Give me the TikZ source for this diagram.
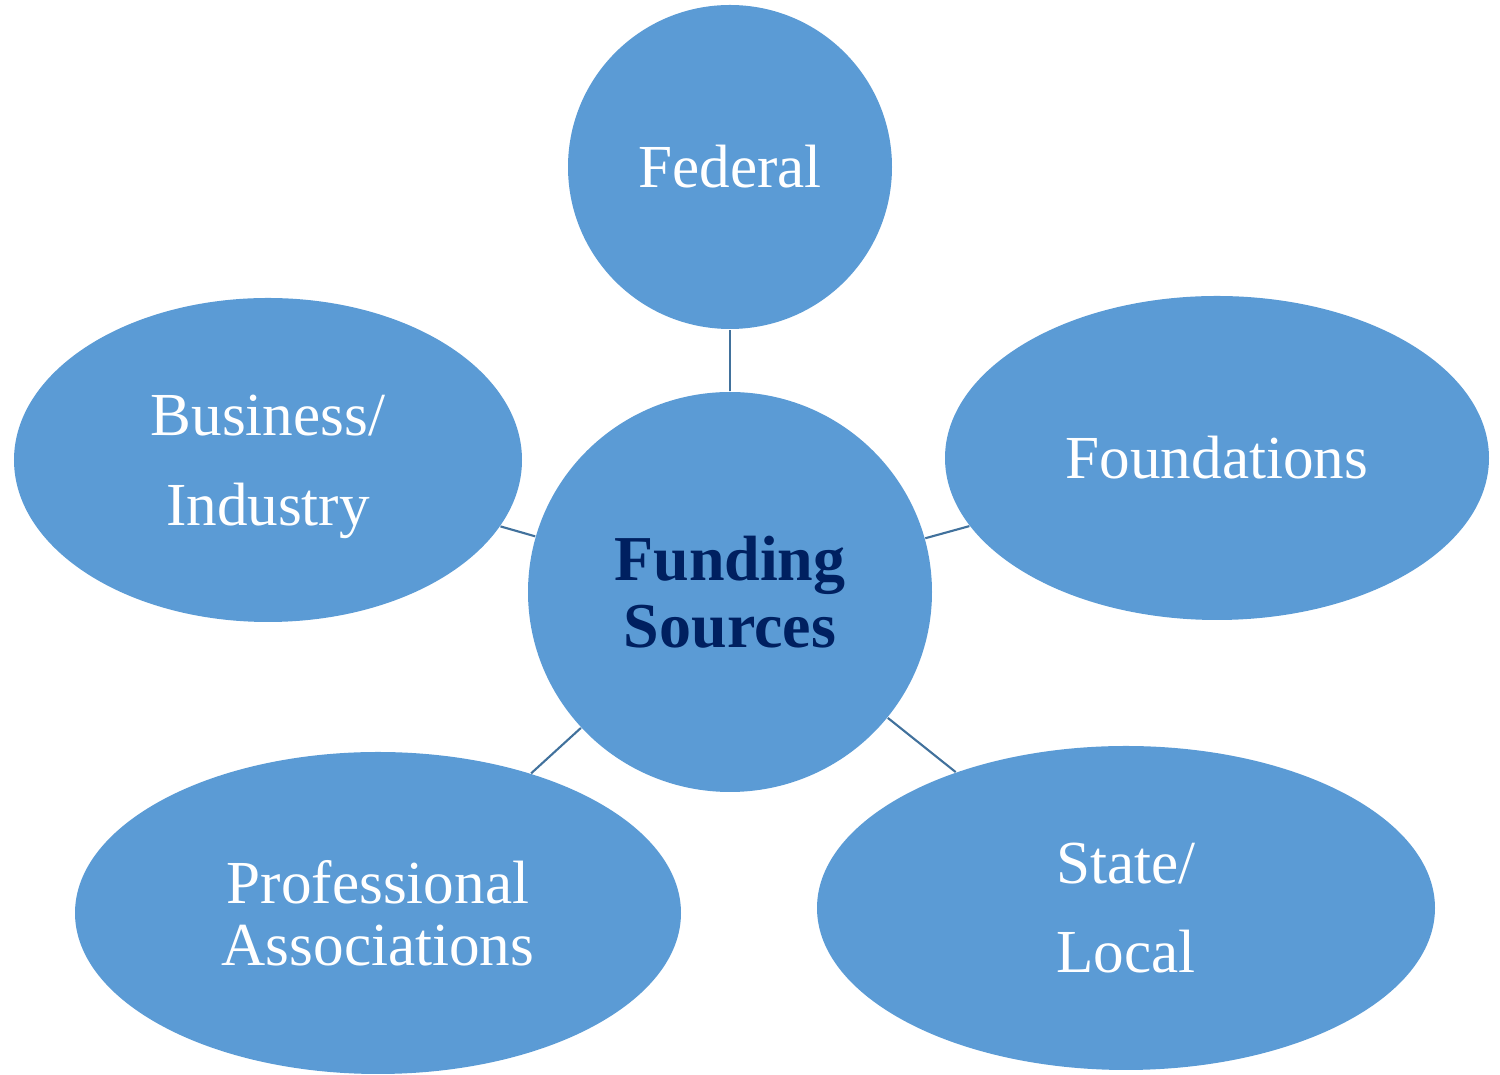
\documentclass[tikz,border=0pt]{standalone}
\usepackage{fontspec}
\setmainfont{Liberation Serif}
\usetikzlibrary{shapes.geometric}
\definecolor{bubble}{HTML}{5B9BD5}
\definecolor{connline}{HTML}{41719C}
\definecolor{navy}{HTML}{002060}
\tikzset{
  bubble/.style={ellipse, fill=bubble, draw=none, inner sep=0pt, align=center, text=white,
    font=\fontsize{17.4pt}{25.5pt}\selectfont},
  conn/.style={draw=connline, line width=0.6pt}
}
\begin{document}
\begin{tikzpicture}
\useasboundingbox (0,0) rectangle (15,-10.75);
\node[bubble, minimum width=3.24cm, minimum height=3.24cm] (fed) at (7.30,-1.67) {Federal};
\node[bubble, minimum width=4.04cm, minimum height=4.00cm, text=navy,
      font=\fontsize{18.2pt}{19pt}\selectfont\bfseries] (ctr) at (7.30,-5.92) {Funding\\Sources};
\node[bubble, minimum width=5.08cm, minimum height=3.24cm] (bus) at (2.68,-4.60) {\rule{0pt}{0.54cm}Business/\\Industry};
\node[bubble, minimum width=5.44cm, minimum height=3.24cm] (fnd) at (12.17,-4.58) {Foundations};
\node[bubble, minimum width=6.06cm, minimum height=3.22cm,
      font=\fontsize{17.4pt}{17.6pt}\selectfont] (pro) at (3.78,-9.13) {Professional\\Associations};
\node[bubble, minimum width=6.18cm, minimum height=3.24cm] (sta) at (11.26,-9.08) {State/\\Local};
\draw[conn] (ctr) -- (fed);
\draw[conn] (ctr) -- (bus);
\draw[conn] (ctr) -- (fnd);
\draw[conn] (ctr) -- (pro);
\draw[conn] (ctr) -- (sta);
\end{tikzpicture}
\end{document}
